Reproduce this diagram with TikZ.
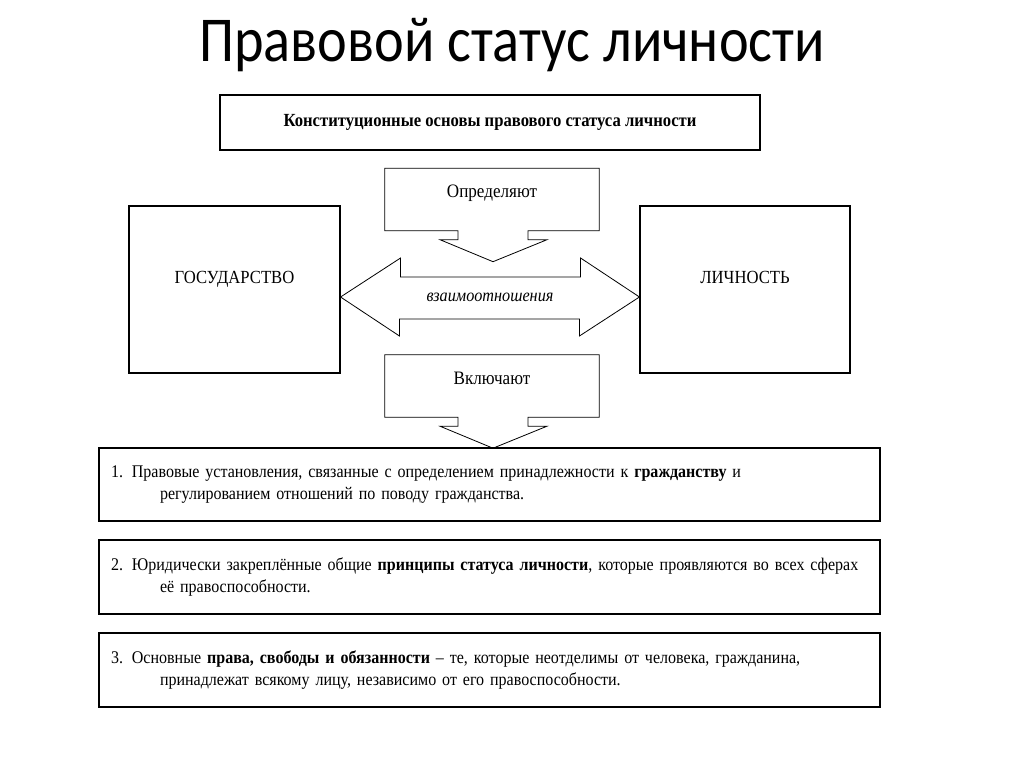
\documentclass[tikz,border=0pt]{standalone}
\usepackage{fontspec}
\setmainfont{Liberation Serif}
\newfontfamily\titlefont[FakeStretch=0.88]{Carlito}
\newfontfamily\schemefont[FakeStretch=0.9]{Liberation Serif}
\begin{document}
\begin{tikzpicture}[x=1pt,y=-1pt,
    box/.style={draw,line width=1.1pt,inner sep=0pt},
    arrowline/.style={draw,line width=0.8pt,line join=miter},
    itembox/.style={box,minimum width=781pt,minimum height=73pt,align=left,
        text width=757pt,font=\schemefont\fontsize{17.8}{22}\selectfont}]
    \useasboundingbox (0,0) rectangle (1024,767);

    %%%%%%%%% Titolo %%%%%%%%%
    \node[anchor=base] (title) at (512,62) {\titlefont\fontsize{64}{68}\selectfont Правовой статус личности};

    %%%%%%%%% Basi %%%%%%%%%
    \node[box,minimum width=540pt,minimum height=55pt] (osnovy) at (490,122.5)
        {\schemefont\bfseries\fontsize{18.5}{20}\selectfont Конституционные основы правового статуса личности};

    %%%%%%%%% Lati %%%%%%%%%
    \node[box,minimum width=211pt,minimum height=167pt,text height=9pt,text depth=22pt] (gos) at (234.5,289.5)
        {\schemefont\fontsize{18.5}{20}\selectfont ГОСУДАРСТВО};
    \node[box,minimum width=210pt,minimum height=167pt,text height=9pt,text depth=22pt] (lich) at (745,289.5)
        {\schemefont\fontsize{18.5}{20}\selectfont ЛИЧНОСТЬ};

    %%%%%%%%% Frecce %%%%%%%%%
    \node[inner sep=0pt,minimum width=214pt,minimum height=62pt,text height=9pt,text depth=13pt] (opr) at (492,199.5)
        {\schemefont\fontsize{19}{21}\selectfont Определяют};
    \draw[arrowline] (opr.south west) -- (opr.north west) -- (opr.north east) -- (opr.south east)
        -- ([xshift=36pt]opr.south) -- ++(0,9) -- ++(19,0) -- ++(-54,22) -- ++(-53,-22)
        -- ++(18,0) -- ++(0,-9) -- cycle;

    \node[inner sep=0pt,minimum width=214pt,minimum height=62pt,text height=9pt,text depth=13pt] (vkl) at (492,386)
        {\schemefont\fontsize{19}{21}\selectfont Включают};
    \draw[arrowline] (vkl.south west) -- (vkl.north west) -- (vkl.north east) -- (vkl.south east)
        -- ([xshift=36pt]vkl.south) -- ++(0,9) -- ++(19,0) -- ++(-54,22) -- ++(-53,-22)
        -- ++(18,0) -- ++(0,-9) -- cycle;

    \node (rel) at (490,297) {\schemefont\itshape\fontsize{18}{20}\selectfont взаимоотношения};
    \draw[arrowline] (gos.east |- rel) -- ++(60,-39) -- ++(0,19) -- ++(180,0) -- ++(0,-19)
        -- (lich.west |- rel) -- ++(-60,39) -- ++(0,-17) -- ++(-180,0) -- ++(0,17) -- cycle;

    %%%%%%%%% Elementi %%%%%%%%%
    \node[itembox] (item1) at (489.5,484.5)
        {1. Правовые установления, связанные с определением принадлежности к \textbf{гражданству} и\\
        \hspace*{49pt}регулированием отношений по поводу гражданства.};
    \node[itembox,minimum height=74pt] (item2) at (489.5,577)
        {2. Юридически закреплённые общие \textbf{принципы статуса личности}, которые проявляются во всех сферах\\
        \hspace*{49pt}её правоспособности.};
    \node[itembox,minimum height=74pt] (item3) at (489.5,670)
        {3. Основные \textbf{права, свободы и обязанности} – те, которые неотделимы от человека, гражданина,\\
        \hspace*{49pt}принадлежат всякому лицу, независимо от его правоспособности.};
\end{tikzpicture}
\end{document}
